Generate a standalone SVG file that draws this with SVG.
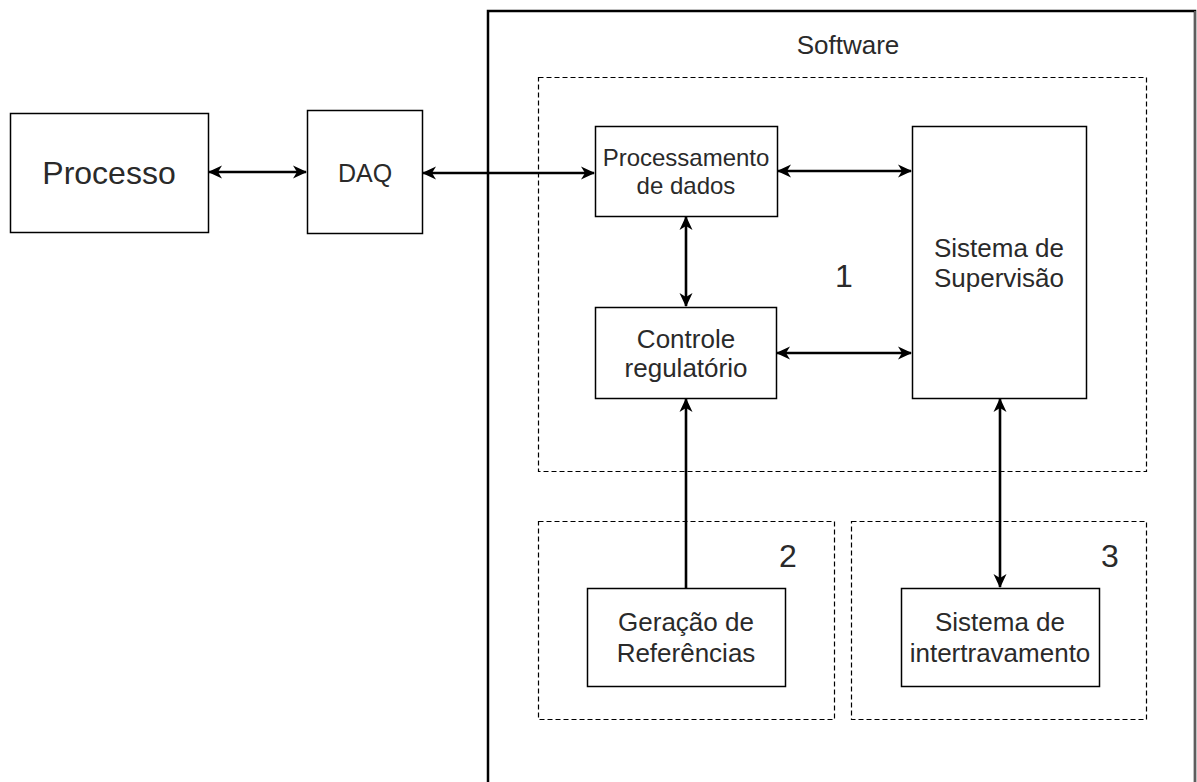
<svg xmlns="http://www.w3.org/2000/svg" width="1197" height="782" viewBox="0 0 1197 782">
<style>
.box{fill:#fff;stroke:#000;stroke-width:1.5}
.dash{fill:none;stroke:#000;stroke-width:1.2;stroke-dasharray:5,3}
.t{font-family:"Liberation Sans",Arial,sans-serif;fill:#2a2a2a;text-anchor:middle}
.c{fill:none;stroke:#000;stroke-width:2.6}
</style>
<defs>
<marker id="ah" viewBox="0 0 14 14" refX="13" refY="7" markerWidth="14" markerHeight="14" markerUnits="userSpaceOnUse" orient="auto-start-reverse">
<path d="M0,0.5 L14,7 L0,13.5 L4,7 z" fill="#000"/>
</marker>
</defs>
<g id="software">
<rect x="488" y="11" width="707" height="790" fill="none" stroke="#000" stroke-width="2.5"/>
<line x1="1195" y1="11" x2="1195" y2="782" stroke="#bbb" stroke-width="1"/>
<text class="t" x="848" y="54" font-size="26">Software</text>
</g>
<g id="group1">
<rect class="dash" x="538.5" y="77.5" width="608" height="394"/>
<text class="t" x="844" y="287" font-size="32">1</text>
</g>
<g id="group2">
<rect class="dash" x="538.5" y="521.5" width="296" height="198"/>
<text class="t" x="788" y="567" font-size="32">2</text>
</g>
<g id="group3">
<rect class="dash" x="851.5" y="521.5" width="295" height="198"/>
<text class="t" x="1110" y="567" font-size="32">3</text>
</g>
<g id="processo">
<rect class="box" x="10.5" y="113.5" width="198" height="119"/>
<text class="t" x="109" y="184" font-size="32">Processo</text>
</g>
<g id="daq">
<rect class="box" x="307.5" y="110.5" width="115" height="123"/>
<text class="t" x="365" y="182" font-size="25">DAQ</text>
</g>
<g id="processamento">
<rect class="box" x="595.5" y="126.5" width="182" height="90"/>
<text class="t" x="686" y="166" font-size="24">Processamento</text>
<text class="t" x="686" y="194" font-size="24">de dados</text>
</g>
<g id="supervisao">
<rect class="box" x="912.5" y="126.5" width="174" height="272"/>
<text class="t" x="999" y="257" font-size="26">Sistema de</text>
<text class="t" x="999" y="287" font-size="26">Supervisão</text>
</g>
<g id="controle">
<rect class="box" x="595.5" y="307.5" width="181" height="91"/>
<text class="t" x="686" y="348" font-size="26">Controle</text>
<text class="t" x="686" y="377" font-size="26">regulatório</text>
</g>
<g id="geracao">
<rect class="box" x="587.5" y="588.5" width="198" height="98"/>
<text class="t" x="686" y="631" font-size="26">Geração de</text>
<text class="t" x="686" y="662" font-size="26">Referências</text>
</g>
<g id="intertravamento">
<rect class="box" x="901.5" y="588.5" width="198" height="98"/>
<text class="t" x="1000" y="631" font-size="26">Sistema de</text>
<text class="t" x="1000" y="662" font-size="26">intertravamento</text>
</g>
<g id="connectors">
<line class="c" x1="209" y1="172" x2="306" y2="172" marker-start="url(#ah)" marker-end="url(#ah)"/>
<line class="c" x1="423" y1="173" x2="594" y2="173" marker-start="url(#ah)" marker-end="url(#ah)"/>
<line class="c" x1="778" y1="171" x2="911" y2="171" marker-start="url(#ah)" marker-end="url(#ah)"/>
<line class="c" x1="686" y1="217" x2="686" y2="306" marker-start="url(#ah)" marker-end="url(#ah)"/>
<line class="c" x1="777" y1="353" x2="911" y2="353" marker-start="url(#ah)" marker-end="url(#ah)"/>
<line class="c" x1="686" y1="588" x2="686" y2="399" marker-end="url(#ah)"/>
<line class="c" x1="1000" y1="399" x2="1000" y2="587" marker-start="url(#ah)" marker-end="url(#ah)"/>
</g>
</svg>
